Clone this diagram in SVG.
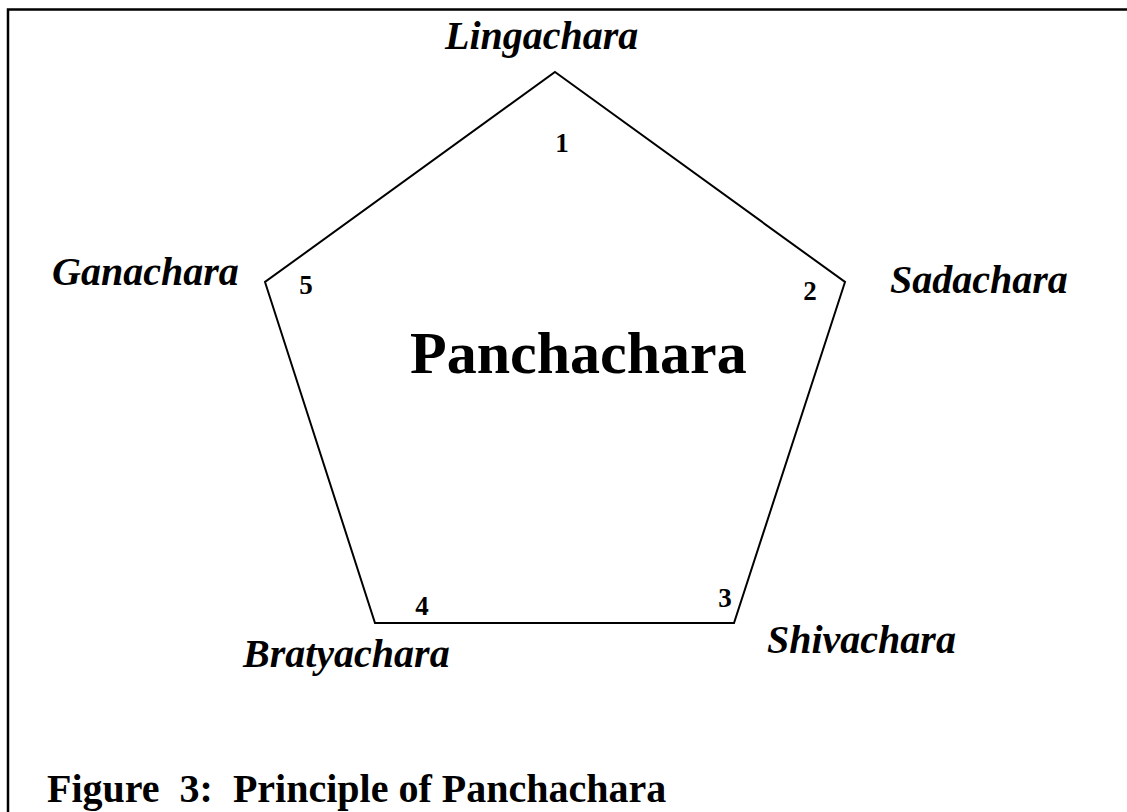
<svg xmlns="http://www.w3.org/2000/svg" width="1127" height="812" viewBox="0 0 1127 812">
<style>
.lbl{font-family:"Liberation Serif","Times New Roman",serif;font-weight:bold;font-style:italic;font-size:40px;fill:#000}
.num{font-family:"Liberation Serif","Times New Roman",serif;font-weight:bold;font-size:27px;fill:#000}
.title{font-family:"Liberation Serif","Times New Roman",serif;font-weight:bold;font-size:60px;fill:#000}
.cap{font-family:"Liberation Serif","Times New Roman",serif;font-weight:bold;font-size:40px;fill:#000;white-space:pre}
</style>
<rect width="1127" height="812" fill="#fff"/>
<g id="frame" fill="none" stroke="#000" stroke-width="2.5">
<polyline points="8,812 8,9.5 1127,9.5"/>
</g>
<g id="connectors">
<polygon points="555,72 845,282 734,623 375,623 265,282" fill="none" stroke="#000" stroke-width="2"/>
</g>
<g id="center"><text class="title" x="410" y="373">Panchachara</text></g>
<g id="lingachara"><text class="lbl" x="445" y="49">Lingachara</text><text class="num" x="562" y="152" text-anchor="middle">1</text></g>
<g id="sadachara"><text class="lbl" x="890" y="293">Sadachara</text><text class="num" x="810" y="300" text-anchor="middle">2</text></g>
<g id="shivachara"><text class="lbl" x="767" y="653">Shivachara</text><text class="num" x="725" y="607" text-anchor="middle">3</text></g>
<g id="bratyachara"><text class="lbl" x="243" y="667">Bratyachara</text><text class="num" x="422" y="615" text-anchor="middle">4</text></g>
<g id="ganachara"><text class="lbl" x="52" y="285">Ganachara</text><text class="num" x="306" y="294" text-anchor="middle">5</text></g>
<g id="caption"><text class="cap" x="47" y="802">Figure  3:  Principle of Panchachara</text></g>
</svg>
